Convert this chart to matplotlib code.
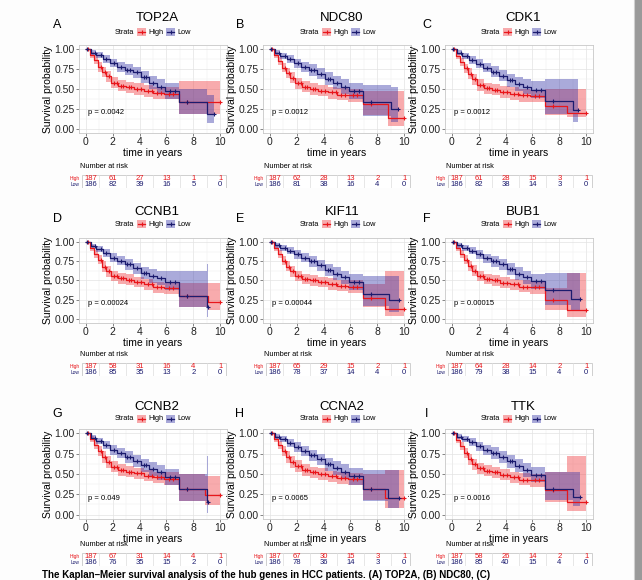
import numpy as np
import matplotlib.pyplot as plt
from matplotlib import font_manager
from matplotlib.patches import Rectangle
from matplotlib.lines import Line2D

# ---- data ----
genes = ['TOP2A', 'NDC80', 'CDK1', 'CCNB1', 'KIF11', 'BUB1', 'CCNB2', 'CCNA2', 'TTK']
letters = ['A', 'B', 'C', 'D', 'E', 'F', 'G', 'H', 'I']
p_values = ['0.0042', '0.0012', '0.0012', '0.00024', '0.00044', '0.00015',
            '0.049', '0.0065', '0.0016']

risk_times = [0, 2, 4, 6, 8, 10]
risk_high = [[187, 61, 27, 13, 1, 1], [187, 62, 28, 13, 2, 1], [187, 61, 28, 15, 3, 1],
             [187, 58, 31, 16, 4, 1], [187, 65, 29, 15, 2, 1], [187, 64, 28, 14, 2, 1],
             [187, 67, 31, 14, 4, 1], [187, 67, 30, 15, 3, 1], [187, 58, 26, 14, 2, 1]]
risk_low = [[186, 82, 39, 16, 5, 0], [186, 81, 38, 16, 4, 0], [186, 82, 38, 14, 3, 0],
            [186, 85, 35, 13, 2, 0], [186, 78, 37, 14, 4, 0], [186, 79, 38, 15, 4, 0],
            [186, 76, 35, 15, 2, 0], [186, 78, 36, 14, 3, 0], [186, 85, 40, 15, 4, 0]]

# High expression group: step times, survival, lower / upper CI
high_t = [
    [0, 0.3, 0.6, 0.9, 1.2, 1.5, 1.9, 2.4, 3.0, 3.6, 4.3, 5.0, 5.8, 6.9, 10.0],
    [0, 0.3, 0.6, 0.9, 1.2, 1.5, 1.9, 2.4, 3.0, 3.6, 4.3, 5.0, 5.8, 6.9, 8.8, 10.0],
    [0, 0.3, 0.6, 0.9, 1.2, 1.5, 1.9, 2.4, 3.0, 3.6, 4.3, 5.0, 5.8, 6.9, 8.6, 10.0],
    [0, 0.3, 0.6, 0.9, 1.2, 1.5, 1.9, 2.4, 3.0, 3.6, 4.3, 5.0, 5.8, 6.9, 9.1, 10.0],
    [0, 0.3, 0.6, 0.9, 1.2, 1.5, 1.9, 2.4, 3.0, 3.6, 4.3, 5.0, 5.8, 6.9, 8.6, 10.0],
    [0, 0.3, 0.6, 0.9, 1.2, 1.5, 1.9, 2.4, 3.0, 3.6, 4.3, 5.0, 5.8, 6.9, 8.6, 10.0],
    [0, 0.3, 0.6, 0.9, 1.2, 1.5, 1.9, 2.4, 3.0, 3.6, 4.3, 5.0, 5.8, 6.9, 8.9, 10.0],
    [0, 0.3, 0.6, 0.9, 1.2, 1.5, 1.9, 2.4, 3.0, 3.6, 4.3, 5.0, 5.8, 6.9, 8.6, 10.0],
    [0, 0.3, 0.6, 0.9, 1.2, 1.5, 1.9, 2.4, 3.0, 3.6, 4.3, 5.0, 5.8, 6.9, 8.6, 10.0],
]
high_s = [
    [1, 0.93, 0.86, 0.78, 0.71, 0.66, 0.58, 0.54, 0.52, 0.50, 0.47, 0.45, 0.44, 0.33, 0.33],
    [1, 0.93, 0.85, 0.77, 0.70, 0.64, 0.57, 0.53, 0.50, 0.48, 0.46, 0.43, 0.42, 0.31, 0.14, 0.14],
    [1, 0.92, 0.84, 0.76, 0.69, 0.62, 0.55, 0.51, 0.49, 0.46, 0.44, 0.42, 0.41, 0.29, 0.20, 0.20],
    [1, 0.92, 0.85, 0.77, 0.68, 0.62, 0.56, 0.53, 0.51, 0.48, 0.45, 0.41, 0.40, 0.30, 0.22, 0.22],
    [1, 0.92, 0.85, 0.76, 0.68, 0.62, 0.56, 0.52, 0.50, 0.48, 0.45, 0.43, 0.42, 0.27, 0.13, 0.13],
    [1, 0.92, 0.85, 0.77, 0.69, 0.63, 0.56, 0.52, 0.50, 0.47, 0.45, 0.42, 0.41, 0.24, 0.12, 0.12],
    [1, 0.93, 0.86, 0.78, 0.71, 0.65, 0.59, 0.55, 0.53, 0.51, 0.48, 0.46, 0.44, 0.31, 0.24, 0.24],
    [1, 0.93, 0.86, 0.78, 0.71, 0.65, 0.60, 0.55, 0.52, 0.50, 0.47, 0.45, 0.44, 0.32, 0.20, 0.20],
    [1, 0.92, 0.85, 0.76, 0.68, 0.62, 0.57, 0.54, 0.52, 0.49, 0.46, 0.43, 0.42, 0.30, 0.16, 0.16],
]
high_lo = [
    [1, 0.89, 0.81, 0.72, 0.65, 0.59, 0.51, 0.47, 0.45, 0.42, 0.40, 0.38, 0.37, 0.18, 0.18],
    [1, 0.89, 0.80, 0.71, 0.64, 0.57, 0.50, 0.46, 0.43, 0.41, 0.38, 0.36, 0.34, 0.17, 0.03, 0.03],
    [1, 0.88, 0.79, 0.70, 0.62, 0.55, 0.48, 0.44, 0.42, 0.39, 0.36, 0.34, 0.33, 0.17, 0.15, 0.15],
    [1, 0.88, 0.80, 0.71, 0.61, 0.55, 0.49, 0.46, 0.44, 0.41, 0.38, 0.34, 0.33, 0.15, 0.12, 0.12],
    [1, 0.88, 0.80, 0.70, 0.62, 0.55, 0.49, 0.45, 0.43, 0.41, 0.38, 0.36, 0.34, 0.15, 0.03, 0.03],
    [1, 0.88, 0.80, 0.71, 0.63, 0.56, 0.49, 0.45, 0.43, 0.40, 0.38, 0.35, 0.33, 0.12, 0.02, 0.02],
    [1, 0.89, 0.81, 0.72, 0.64, 0.58, 0.52, 0.48, 0.46, 0.44, 0.41, 0.39, 0.37, 0.17, 0.12, 0.12],
    [1, 0.89, 0.81, 0.72, 0.64, 0.58, 0.53, 0.48, 0.45, 0.43, 0.40, 0.38, 0.37, 0.18, 0.08, 0.08],
    [1, 0.88, 0.80, 0.70, 0.61, 0.55, 0.50, 0.47, 0.45, 0.42, 0.39, 0.36, 0.34, 0.16, 0.04, 0.04],
]
high_up = [
    [1, 0.97, 0.91, 0.84, 0.78, 0.73, 0.65, 0.61, 0.59, 0.57, 0.55, 0.53, 0.52, 0.60, 0.60],
    [1, 0.97, 0.90, 0.83, 0.77, 0.71, 0.64, 0.60, 0.57, 0.55, 0.53, 0.51, 0.50, 0.48, 0.48, 0.48],
    [1, 0.96, 0.89, 0.82, 0.76, 0.69, 0.62, 0.58, 0.56, 0.54, 0.52, 0.50, 0.49, 0.50, 0.50, 0.50],
    [1, 0.96, 0.90, 0.83, 0.75, 0.69, 0.63, 0.60, 0.58, 0.55, 0.52, 0.48, 0.47, 0.47, 0.47, 0.47],
    [1, 0.96, 0.90, 0.82, 0.75, 0.69, 0.63, 0.59, 0.57, 0.55, 0.53, 0.51, 0.50, 0.45, 0.63, 0.63],
    [1, 0.96, 0.90, 0.83, 0.76, 0.70, 0.63, 0.59, 0.57, 0.54, 0.52, 0.50, 0.49, 0.40, 0.60, 0.60],
    [1, 0.97, 0.91, 0.84, 0.78, 0.72, 0.66, 0.62, 0.60, 0.58, 0.55, 0.53, 0.52, 0.50, 0.47, 0.47],
    [1, 0.97, 0.91, 0.84, 0.78, 0.72, 0.67, 0.62, 0.59, 0.57, 0.54, 0.52, 0.51, 0.50, 0.55, 0.55],
    [1, 0.96, 0.90, 0.82, 0.75, 0.69, 0.64, 0.61, 0.59, 0.56, 0.53, 0.51, 0.50, 0.52, 0.72, 0.72],
]

# Low expression group
low_t = [
    [0, 0.4, 0.8, 1.3, 1.8, 2.3, 2.9, 3.5, 4.1, 4.7, 5.3, 5.9, 6.9, 9.0, 9.5],
    [0, 0.4, 0.8, 1.3, 1.8, 2.3, 2.9, 3.5, 4.1, 4.7, 5.3, 5.9, 6.9, 9.0, 9.5],
    [0, 0.4, 0.8, 1.3, 1.8, 2.3, 2.9, 3.5, 4.1, 4.7, 5.3, 5.9, 6.9, 9.0, 9.4],
    [0, 0.4, 0.8, 1.3, 1.8, 2.3, 2.9, 3.5, 4.1, 4.7, 5.3, 5.9, 6.9, 9.0, 9.1],
    [0, 0.4, 0.8, 1.3, 1.8, 2.3, 2.9, 3.5, 4.1, 4.7, 5.3, 5.9, 6.9, 8.9, 9.6],
    [0, 0.4, 0.8, 1.3, 1.8, 2.3, 2.9, 3.5, 4.1, 4.7, 5.3, 5.9, 6.9, 8.9, 9.5],
    [0, 0.4, 0.8, 1.3, 1.8, 2.3, 2.9, 3.5, 4.1, 4.7, 5.3, 5.9, 6.9, 9.0, 9.1],
    [0, 0.4, 0.8, 1.3, 1.8, 2.3, 2.9, 3.5, 4.1, 4.7, 5.3, 5.9, 6.9, 8.8, 9.6],
    [0, 0.4, 0.8, 1.3, 1.8, 2.3, 2.9, 3.5, 4.1, 4.7, 5.3, 5.9, 6.9, 9.0, 9.5],
]
low_s = [
    [1, 0.96, 0.93, 0.88, 0.83, 0.78, 0.74, 0.71, 0.65, 0.58, 0.53, 0.47, 0.33, 0.18, 0.18],
    [1, 0.96, 0.92, 0.88, 0.83, 0.78, 0.74, 0.69, 0.63, 0.58, 0.53, 0.48, 0.33, 0.25, 0.25],
    [1, 0.96, 0.92, 0.87, 0.82, 0.77, 0.72, 0.67, 0.61, 0.56, 0.53, 0.49, 0.35, 0.23, 0.23],
    [1, 0.95, 0.91, 0.86, 0.80, 0.76, 0.71, 0.66, 0.60, 0.56, 0.53, 0.48, 0.30, 0.15, 0.15],
    [1, 0.96, 0.93, 0.89, 0.84, 0.80, 0.75, 0.70, 0.64, 0.58, 0.54, 0.48, 0.33, 0.25, 0.25],
    [1, 0.96, 0.93, 0.89, 0.84, 0.79, 0.75, 0.71, 0.65, 0.59, 0.54, 0.49, 0.37, 0.26, 0.26],
    [1, 0.95, 0.91, 0.86, 0.80, 0.76, 0.71, 0.66, 0.61, 0.56, 0.52, 0.46, 0.31, 0.15, 0.15],
    [1, 0.96, 0.93, 0.88, 0.83, 0.78, 0.73, 0.68, 0.62, 0.57, 0.53, 0.47, 0.32, 0.20, 0.20],
    [1, 0.96, 0.93, 0.89, 0.84, 0.80, 0.76, 0.71, 0.66, 0.60, 0.55, 0.49, 0.32, 0.22, 0.22],
]
low_lo = [
    [1, 0.93, 0.89, 0.83, 0.78, 0.72, 0.68, 0.64, 0.57, 0.50, 0.44, 0.37, 0.18, 0.07, 0.07],
    [1, 0.93, 0.88, 0.83, 0.77, 0.72, 0.67, 0.62, 0.55, 0.50, 0.44, 0.38, 0.16, 0.09, 0.09],
    [1, 0.93, 0.88, 0.82, 0.76, 0.71, 0.65, 0.60, 0.53, 0.48, 0.44, 0.39, 0.18, 0.08, 0.08],
    [1, 0.92, 0.87, 0.81, 0.74, 0.70, 0.64, 0.59, 0.52, 0.47, 0.44, 0.38, 0.15, 0.02, 0.02],
    [1, 0.93, 0.89, 0.84, 0.78, 0.74, 0.68, 0.63, 0.56, 0.50, 0.45, 0.38, 0.17, 0.09, 0.09],
    [1, 0.93, 0.89, 0.84, 0.78, 0.73, 0.68, 0.64, 0.57, 0.51, 0.45, 0.39, 0.18, 0.10, 0.10],
    [1, 0.92, 0.87, 0.81, 0.74, 0.70, 0.64, 0.59, 0.53, 0.48, 0.43, 0.37, 0.17, 0.02, 0.02],
    [1, 0.93, 0.89, 0.83, 0.77, 0.72, 0.66, 0.61, 0.54, 0.49, 0.44, 0.37, 0.17, 0.08, 0.08],
    [1, 0.93, 0.89, 0.84, 0.78, 0.74, 0.69, 0.64, 0.58, 0.52, 0.46, 0.40, 0.18, 0.10, 0.10],
]
low_up = [
    [1, 0.99, 0.97, 0.93, 0.88, 0.84, 0.81, 0.78, 0.73, 0.67, 0.62, 0.57, 0.50, 0.42, 0.42],
    [1, 0.99, 0.96, 0.93, 0.88, 0.84, 0.81, 0.76, 0.71, 0.67, 0.62, 0.58, 0.55, 0.52, 0.52],
    [1, 0.99, 0.96, 0.92, 0.88, 0.83, 0.79, 0.74, 0.69, 0.65, 0.62, 0.60, 0.62, 0.62, 0.62],
    [1, 0.98, 0.95, 0.91, 0.86, 0.82, 0.78, 0.73, 0.68, 0.65, 0.62, 0.62, 0.62, 0.72, 0.72],
    [1, 0.99, 0.97, 0.94, 0.90, 0.86, 0.82, 0.77, 0.72, 0.67, 0.63, 0.58, 0.56, 0.56, 0.56],
    [1, 0.99, 0.97, 0.94, 0.90, 0.85, 0.82, 0.78, 0.73, 0.68, 0.63, 0.59, 0.60, 0.60, 0.60],
    [1, 0.98, 0.95, 0.91, 0.86, 0.82, 0.78, 0.73, 0.69, 0.65, 0.61, 0.56, 0.50, 0.72, 0.72],
    [1, 0.99, 0.97, 0.93, 0.89, 0.84, 0.80, 0.75, 0.70, 0.66, 0.62, 0.57, 0.55, 0.55, 0.55],
    [1, 0.99, 0.97, 0.94, 0.90, 0.86, 0.83, 0.78, 0.74, 0.69, 0.64, 0.59, 0.52, 0.52, 0.52],
]

# censoring marks (years)
cens_high = [0.15, 1.1, 1.4, 1.7, 2.1, 2.3, 2.6, 2.8, 3.2, 3.4, 3.8, 4.1, 4.6, 4.9,
             5.3, 5.6, 6.2, 6.5, 7.5]
cens_low = [0.1, 0.7, 1.1, 1.5, 2.1, 2.6, 3.1, 3.3, 3.8, 4.3, 4.5, 5.0, 5.6, 6.3,
            6.6, 7.5]

caption = ("The Kaplan\u2013Meier survival analysis of the hub genes in HCC patients. "
           "(A) TOP2A, (B) NDC80, (C)")

# ---- style ----
names = {f.name for f in font_manager.fontManager.ttflist}
narrow = 'Liberation Sans Narrow' if 'Liberation Sans Narrow' in names else 'Liberation Sans'
plt.rcParams['font.family'] = [narrow, 'DejaVu Sans']

RED = '#e8161b'
BLUE = '#1b1b6e'
RED_FILL = '#f0383c'
BLUE_FILL = '#3535a8'
ALPHA = 0.42

W, H = 642, 580
fig = plt.figure(figsize=(W / 100, H / 100), dpi=100)
fig.patch.set_facecolor('#fdfdfd')


def fx(px):
    return px / W


def fy(py):
    return 1 - py / H


def step_value(t, s, c):
    i = np.searchsorted(t, c, side='right') - 1
    return s[i]


col_left = [79, 263, 445]
col_title = [157, 342, 523]
letter_x = [57, 240, 427]
row_top = [45, 238, 429]
row_h = [88, 85, 90]
row_title = [18, 212, 407]
row_legend = [32, 224, 419]
row_table = [175, 363, 553]
AX_W = 148

for k in range(9):
    r, c = divmod(k, 3)
    left, top, h = col_left[c], row_top[r], row_h[r]
    ax = fig.add_axes([fx(left), fy(top + h), AX_W / W, h / H])

    # confidence bands + curves
    ax.fill_between(high_t[k], high_lo[k], high_up[k], step='post',
                    color=RED_FILL, alpha=ALPHA, lw=0)
    ax.fill_between(low_t[k], low_lo[k], low_up[k], step='post',
                    color=BLUE_FILL, alpha=ALPHA, lw=0)
    ax.step(high_t[k], high_s[k], where='post', color=RED, lw=0.9)
    ax.step(low_t[k], low_s[k], where='post', color=BLUE, lw=0.9)

    for t_arr, s_arr, cens, col in [(high_t[k], high_s[k], cens_high, RED),
                                    (low_t[k], low_s[k], cens_low, BLUE)]:
        ct = [x for x in cens if x < t_arr[-1]] + [t_arr[-1]]
        cy = [step_value(t_arr, s_arr, x) for x in ct]
        ax.plot(ct, cy, ls='none', marker='+', ms=3.5, mew=0.8, color=col)

    ax.text(0.2, 0.2, f'p = {p_values[k]}', fontsize=5.5, ha='left', va='center')

    ax.set_xlim(-0.5, 10.5)
    ax.set_ylim(-0.055, 1.055)
    ax.set_xticks(risk_times)
    ax.set_yticks([0, 0.25, 0.5, 0.75, 1.0])
    ax.set_yticklabels(['0.00', '0.25', '0.50', '0.75', '1.00'])
    ax.set_xticks([1, 3, 5, 7, 9], minor=True)
    ax.set_yticks([0.125, 0.375, 0.625, 0.875], minor=True)
    ax.grid(which='major', color='#e3e3e3', lw=0.5)
    ax.grid(which='minor', color='#eeeeee', lw=0.35)
    ax.set_axisbelow(True)
    ax.tick_params(which='major', labelsize=7.5, length=2, width=0.5, pad=1,
                   color='#555555', labelcolor='#222222')
    ax.tick_params(which='minor', length=0)
    for sp in ax.spines.values():
        sp.set_color('#c8c8c8')
        sp.set_linewidth(0.6)
    ax.set_ylabel('Survival probability', fontsize=7.5, labelpad=1)
    ax.set_xlabel('time in years', fontsize=7.5, labelpad=0.5)

    # titles, panel letters, legend
    fig.text(fx(col_title[c]), fy(row_title[r]), genes[k], fontsize=9.5,
             ha='center', va='center', family='Liberation Sans')
    fig.text(fx(letter_x[c]), fy(row_title[r] + 7), letters[k], fontsize=9,
             ha='center', va='center', family='Liberation Sans')
    ly = row_legend[r]
    cx = col_title[c]
    fig.text(fx(cx - 42), fy(ly), 'Strata', fontsize=5.3, ha='left', va='center')
    for dx, fill, col, lab in [(-20, RED_FILL, RED, 'High'), (9, BLUE_FILL, BLUE, 'Low')]:
        fig.add_artist(Rectangle((fx(cx + dx), fy(ly + 4)), 9 / W, 8 / H,
                                 transform=fig.transFigure, facecolor=fill,
                                 alpha=ALPHA, edgecolor='none'))
        fig.add_artist(Line2D([fx(cx + dx + 1), fx(cx + dx + 8)], [fy(ly), fy(ly)],
                              transform=fig.transFigure, color=col, lw=0.9))
        fig.add_artist(Line2D([fx(cx + dx + 4.5)], [fy(ly)], transform=fig.transFigure,
                              color=col, marker='+', ms=3.5, mew=0.8))
        fig.text(fx(cx + dx + 11), fy(ly), lab, fontsize=5.3, ha='left', va='center')

    # number at risk table
    fig.text(fx(left + 1), fy(row_table[r] - 9), 'Number at risk', fontsize=5.3,
             ha='left', va='center')
    tab = fig.add_axes([fx(left), fy(row_table[r] + 13), AX_W / W, 13 / H])
    tab.set_xlim(-0.5, 10.5)
    tab.set_ylim(0, 2)
    tab.axis('off')
    tab.add_patch(Rectangle((-0.3, 0.05), 10.7, 1.9, facecolor='white',
                            edgecolor='#c8c8c8', lw=0.6))
    for xv in [1, 3, 5, 7, 9]:
        tab.plot([xv, xv], [0.05, 1.95], color='#dddddd', lw=0.5)
    for j, t in enumerate(risk_times):
        xt = t + 0.4 if j == 0 else t
        tab.text(xt, 1.45, str(risk_high[k][j]), color=RED, fontsize=5.5,
                 ha='center', va='center')
        tab.text(xt, 0.55, str(risk_low[k][j]), color=BLUE, fontsize=5.5,
                 ha='center', va='center')
    tab.text(-0.45, 1.45, 'High', color=RED, fontsize=3.5, ha='right', va='center')
    tab.text(-0.45, 0.55, 'Low', color=BLUE, fontsize=3.5, ha='right', va='center')

# caption at the foot of the page and the grey scrollbar strip on the right
fig.text(fx(42), fy(570), caption, fontsize=7, fontweight='bold',
         ha='left', va='top', family='Liberation Sans')
fig.add_artist(Rectangle((fx(634), 0), 8 / W, 1, transform=fig.transFigure,
                         facecolor='#9a9a9a', edgecolor='none'))
fig.add_artist(Line2D([fx(634), fx(634)], [0, 1], transform=fig.transFigure,
                      color='#d0d0d0', lw=0.8))

fig.savefig('out.png', dpi=100)
